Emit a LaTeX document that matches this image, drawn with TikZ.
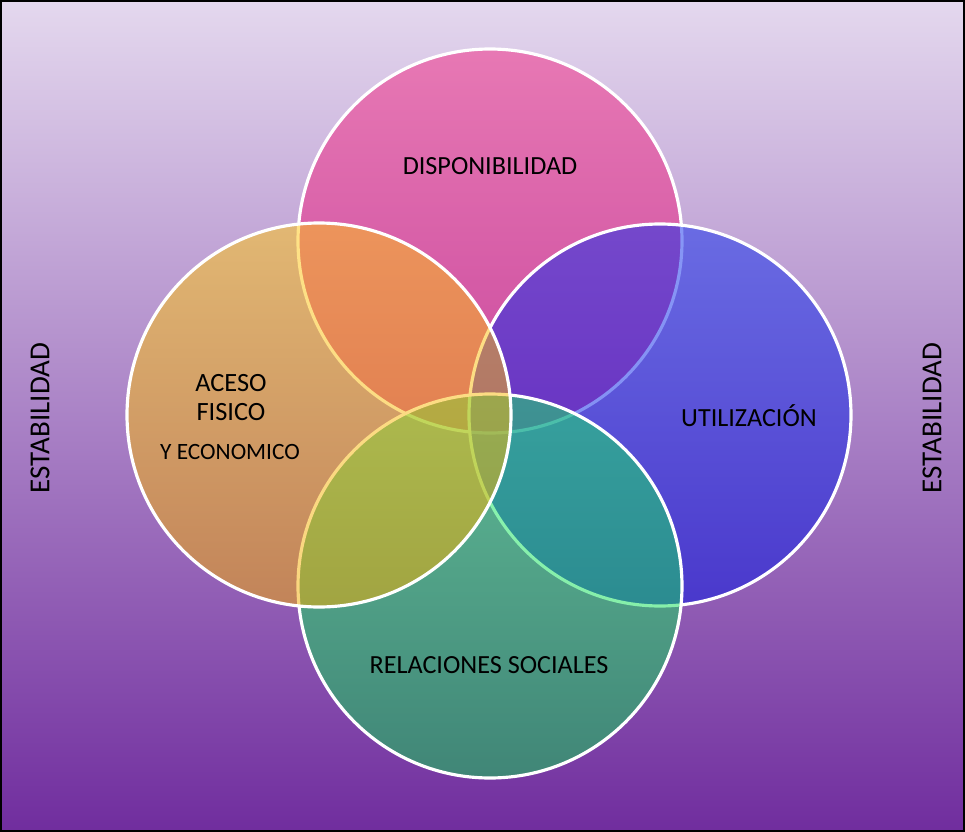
\documentclass[tikz,border=0pt]{standalone}
\usepackage{fontspec}
\setmainfont{Carlito}
\usetikzlibrary{calc}
\definecolor{bgtop}{RGB}{228,216,238}
\definecolor{bgmid}{RGB}{194,174,216}
\definecolor{bgbot}{RGB}{112,45,158}
\definecolor{dispA}{RGB}{242,36,128}
\definecolor{dispB}{RGB}{236,20,120}
\definecolor{rightA}{RGB}{16,47,238}
\definecolor{rightB}{RGB}{5,22,228}
\definecolor{socA}{RGB}{20,238,100}
\definecolor{socB}{RGB}{10,212,76}
\definecolor{leftA}{RGB}{255,198,15}
\definecolor{leftB}{RGB}{245,172,0}
\def\ring[#1](#2)(#3){\shadedraw[draw=white, line width=1.8pt, fill opacity=0.5, #1] (#2) circle (#3);}

\begin{document}
\begin{tikzpicture}[x=0.02cm, y=-0.02cm,
		lbl/.style={font=\fontsize{14.9}{17}\selectfont, inner sep=0pt},
		side/.style={font=\fontsize{16.5}{19}\selectfont, inner sep=0pt, rotate=90}]
		%%%%% START %%%%%
		
		\useasboundingbox (0, 0) rectangle (965, 832);
		\shade[top color=bgtop, middle color=bgmid, bottom color=bgbot] (0, 0) rectangle (965, 832);
		
		\ring[top color=dispA, bottom color=dispB](490, 241)(192);
		\ring[top color=rightA, bottom color=rightB](660, 415)(191);
		\ring[top color=socA, bottom color=socB](490, 586)(192);
		\ring[top color=leftA, bottom color=leftB](319, 415)(192);
		
		\node[lbl] (disp) at (490, 166) {DISPONIBILIDAD};
		\node[lbl] (util) at (749, 416) {UTILIZACIÓN};
		\node[lbl] (soc) at (489, 665) {RELACIONES SOCIALES};
		
		\node[lbl, font=\fontsize{15}{17}\selectfont] (aceso) at (231, 383) {ACESO};
		\node[lbl, font=\fontsize{15}{17}\selectfont] (fisico) at (231, 412) {FISICO};
		\node[lbl, font=\fontsize{13.3}{15}\selectfont] (econ) at (230, 452) {Y ECONOMICO};
		
		\node[side] (estL) at (40, 418) {ESTABILIDAD};
		\node[side] (estR) at (932, 418) {ESTABILIDAD};
		
		\draw[line width=1.4pt] (1, 1) rectangle (964, 831);
		
		%%%%% END %%%%%
	\end{tikzpicture}
\end{document}
